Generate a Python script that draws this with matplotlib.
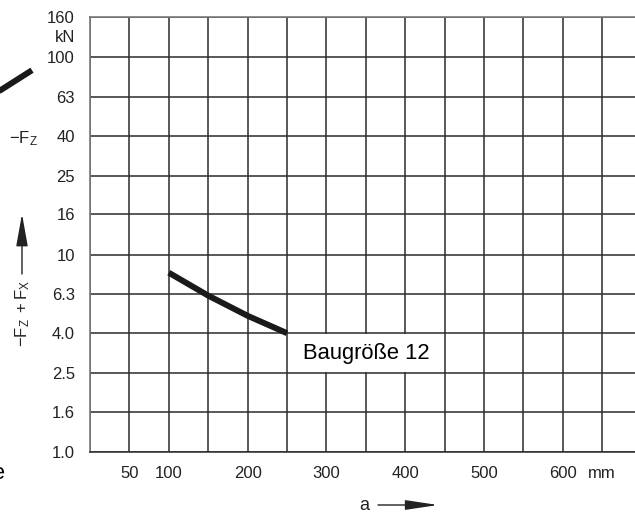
import numpy as np
import matplotlib
matplotlib.use("Agg")
import matplotlib.pyplot as plt
from matplotlib.patches import Rectangle

plt.rcParams['font.family'] = ['Liberation Sans', 'DejaVu Sans']
plt.rcParams['mathtext.fontset'] = 'custom'
plt.rcParams['mathtext.rm'] = 'Liberation Sans'
plt.rcParams['mathtext.it'] = 'Liberation Sans:italic'
plt.rcParams['mathtext.sf'] = 'Liberation Sans'

# data
a_mm = [100, 150, 200, 250]
force_kn = [8.1, 6.2, 4.9, 4.0]
# piece of the neighbouring chart's curve (cut off at the left edge)
prev_a_mm = [550, 592]
prev_force_kn = [63, 86]

y_ticks = [1.0, 1.6, 2.5, 4.0, 6.3, 10, 16, 25, 40, 63, 100, 160]
y_labels = ["1.0", "1.6", "2.5", "4.0", "6.3", "10", "16", "25", "40", "63", "100", "160"]
x_ticks = [50, 100, 200, 300, 400, 500, 600, 650]
x_labels = ["50", "100", "200", "300", "400", "500", "600", "mm"]
x_grid = np.arange(0, 701, 50)

W, H = 635, 518
fx = lambda px: px / W
fy = lambda py: 1 - py / H

fig = plt.figure(figsize=(W / 100, H / 100), dpi=100)
ax = fig.add_axes([fx(90), fy(452), 551.6 / W, 435 / H])

grid_col = '#2b2b2b'
ax.set_yscale('log')
ax.set_ylim(1.0, 160)
ax.set_xlim(0, 700)
ax.yaxis.set_minor_locator(matplotlib.ticker.NullLocator())
ax.set_yticks(y_ticks)
ax.set_yticklabels(y_labels)
ax.set_xticks(x_ticks)
ax.set_xticklabels(x_labels)
ax.set_xticks(x_grid, minor=True)
ax.xaxis.remove_overlapping_locs = False
ax.grid(True, axis='y', which='major', color=grid_col, lw=1.1)
ax.grid(True, axis='x', which='minor', color=grid_col, lw=1.1)
ax.tick_params(which='both', length=0, labelsize=12, colors='#222222')
ax.tick_params(axis='y', pad=10.8)
ax.tick_params(axis='x', pad=10)
ax.set_axisbelow(True)

for s in ['left', 'top']:
    ax.spines[s].set_color('#7a7a7a')
    ax.spines[s].set_linewidth(1.2)
ax.spines['bottom'].set_color(grid_col)
ax.spines['bottom'].set_linewidth(1.1)
ax.spines['right'].set_visible(False)

ax.plot(a_mm, force_kn, color='#1a1a1a', lw=4.3, solid_capstyle='butt', zorder=3)

# label box
ax.add_patch(Rectangle((251, 2.53), 196, 3.95 - 2.53, facecolor='white', edgecolor='none', zorder=2))
ax.text(270, np.sqrt(2.5 * 4.0), "Baugröße 12", fontsize=15.8, ha='left', va='center', zorder=4)

ax.annotate("kN", xy=(0, np.sqrt(160 * 100)), xycoords=('axes fraction', 'data'),
            xytext=(-10.8, 0), textcoords='offset points', ha='right', va='center',
            fontsize=12, color='#222222')

# neighbouring chart to the left
ax_prev = fig.add_axes([fx(-560), fy(452), 600 / W, 435 / H])
ax_prev.set_yscale('log')
ax_prev.set_ylim(1.0, 160)
ax_prev.set_xlim(0, 600)
ax_prev.axis('off')
ax_prev.plot(prev_a_mm, prev_force_kn, color='#1a1a1a', lw=4.3, solid_capstyle='butt', clip_on=False)
fig.text(fx(5), fy(473), "Baugröße", fontsize=15.8, ha='right', va='center')

# axis labels
fig.text(fx(38), fy(143), r"$\mathrm{-F_Z}$", fontsize=12, ha='right', va='baseline', color='#222222')
fig.text(fx(23), fy(313), r"$\mathrm{-F_Z\ +F_X}$", fontsize=12, rotation=90,
         ha='center', va='center', color='#222222')
ax.annotate("", xy=(fx(22), fy(214)), xycoords='figure fraction',
            xytext=(fx(22), fy(274)), textcoords='figure fraction',
            arrowprops=dict(arrowstyle='-|>,head_length=1.0,head_width=0.18',
                            mutation_scale=20, lw=1.0, color='#222222', shrinkA=0, shrinkB=0))

fig.text(fx(364), fy(505), "a", fontsize=13, ha='center', va='center', color='#222222')
ax.annotate("", xy=(fx(438), fy(505)), xycoords='figure fraction',
            xytext=(fx(378), fy(505)), textcoords='figure fraction',
            arrowprops=dict(arrowstyle='-|>,head_length=1.0,head_width=0.15',
                            mutation_scale=20, lw=1.0, color='#222222', shrinkA=0, shrinkB=0))

fig.savefig("out.png", dpi=100)
